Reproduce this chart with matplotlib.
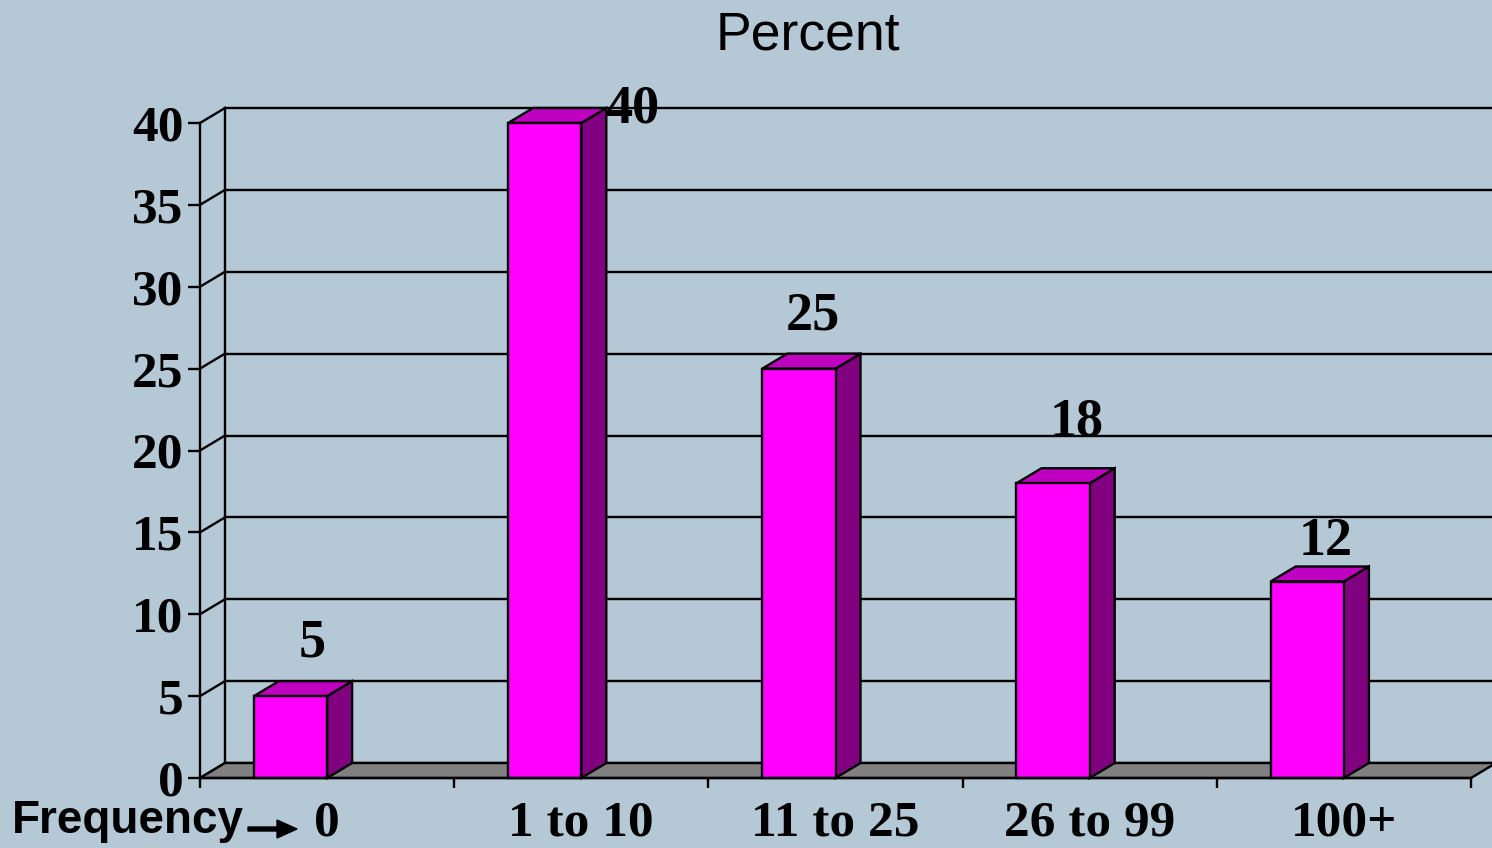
import numpy as np
import matplotlib
matplotlib.use('Agg')
import matplotlib.pyplot as plt
from matplotlib.patches import Polygon

# data
categories = ['0', '1 to 10', '11 to 25', '26 to 99', '100+']
percent = [5, 40, 25, 18, 12]
y_ticks = [0, 5, 10, 15, 20, 25, 30, 35, 40]

# label nudges (x in categories, y in percent) as Excel placed them
label_dx = [0.44, 1.70 - 1, 0.41, 0.45, 0.43]
label_dy = [3.2, 0.8, 3.2, 3.7, 2.4]

BG = '#B4C8D6'
FRONT = '#FF00FF'
TOP = '#C000C0'
SIDE = '#800080'
FLOOR = '#808080'

W, H = 1492, 848
fig = plt.figure(figsize=(W / 100, H / 100), dpi=100, facecolor=BG)
ax = fig.add_axes([200 / W, (H - 778) / H, (1471 - 200) / W, (778 - 123) / H])
ax.set_facecolor('none')

n = len(categories)
ymax = 40
ax.set_xlim(0, n)
ax.set_ylim(0, ymax)

# depth of the fake 3d box in data units
DX = 25 / 254.2
DY = 15 / 16.375
LW = 1.7

# back wall: gridlines, left edge, connectors
for t in y_ticks:
    ax.plot([DX, n + DX], [t + DY, t + DY], color='black', lw=LW, zorder=1, clip_on=False)
    ax.plot([0, DX], [t, t + DY], color='black', lw=LW, zorder=1, clip_on=False)
ax.plot([DX, DX], [DY, ymax + DY], color='black', lw=LW, zorder=1, clip_on=False)

# floor
ax.add_patch(Polygon([(0, 0), (n, 0), (n + DX, DY), (DX, DY)], closed=True,
                     facecolor=FLOOR, edgecolor='black', lw=LW, zorder=2, clip_on=False))

# bars
for i, v in enumerate(percent):
    l, r = i + 0.212, i + 0.5
    ax.add_patch(Polygon([(r, 0), (r + DX, DY), (r + DX, v + DY), (r, v)], closed=True,
                         facecolor=SIDE, edgecolor='black', lw=LW, zorder=3, clip_on=False))
    ax.add_patch(Polygon([(l, v), (r, v), (r + DX, v + DY), (l + DX, v + DY)], closed=True,
                         facecolor=TOP, edgecolor='black', lw=LW, zorder=3, clip_on=False))
    ax.add_patch(Polygon([(l, 0), (r, 0), (r, v), (l, v)], closed=True,
                         facecolor=FRONT, edgecolor='black', lw=LW, zorder=4, clip_on=False))
    ax.text(i + label_dx[i], v + label_dy[i], str(v), ha='center', va='center',
            family='Liberation Serif', weight='bold', fontsize=39, zorder=5, clip_on=False)

# axes look
for s in ['top', 'right']:
    ax.spines[s].set_visible(False)
for s in ['left', 'bottom']:
    ax.spines[s].set_linewidth(LW)
    ax.spines[s].set_zorder(6)

ax.set_yticks(y_ticks)
ax.set_yticklabels([str(t) for t in y_ticks], family='Liberation Serif', weight='bold', fontsize=37)
ax.tick_params(axis='y', direction='out', length=9, width=LW, pad=3)

ax.set_xticks(np.arange(n + 1))
ax.set_xticklabels([])
ax.tick_params(axis='x', which='major', direction='out', length=7, width=LW)
ax.set_xticks(np.arange(n) + 0.5, minor=True)
ax.set_xticklabels(categories, minor=True, family='Liberation Serif', weight='bold', fontsize=37)
ax.tick_params(axis='x', which='minor', length=0, pad=16)

fig.text(808 / W, 1 - 35 / H, 'Percent', ha='center', va='center',
         family='Liberation Sans', fontsize=38.5)
fig.text(12 / W, 1 - 821 / H, 'Frequency', ha='left', va='center',
         family='Liberation Sans', weight='bold', fontsize=33)
fig.patches.append(matplotlib.patches.FancyArrow(
    248 / W, 1 - 829 / H, 49 / W, 0, width=4 / H, head_width=18 / H, head_length=20 / W,
    length_includes_head=True, color='black', transform=fig.transFigure, figure=fig))

fig.savefig('out.png', dpi=100, facecolor=BG)
